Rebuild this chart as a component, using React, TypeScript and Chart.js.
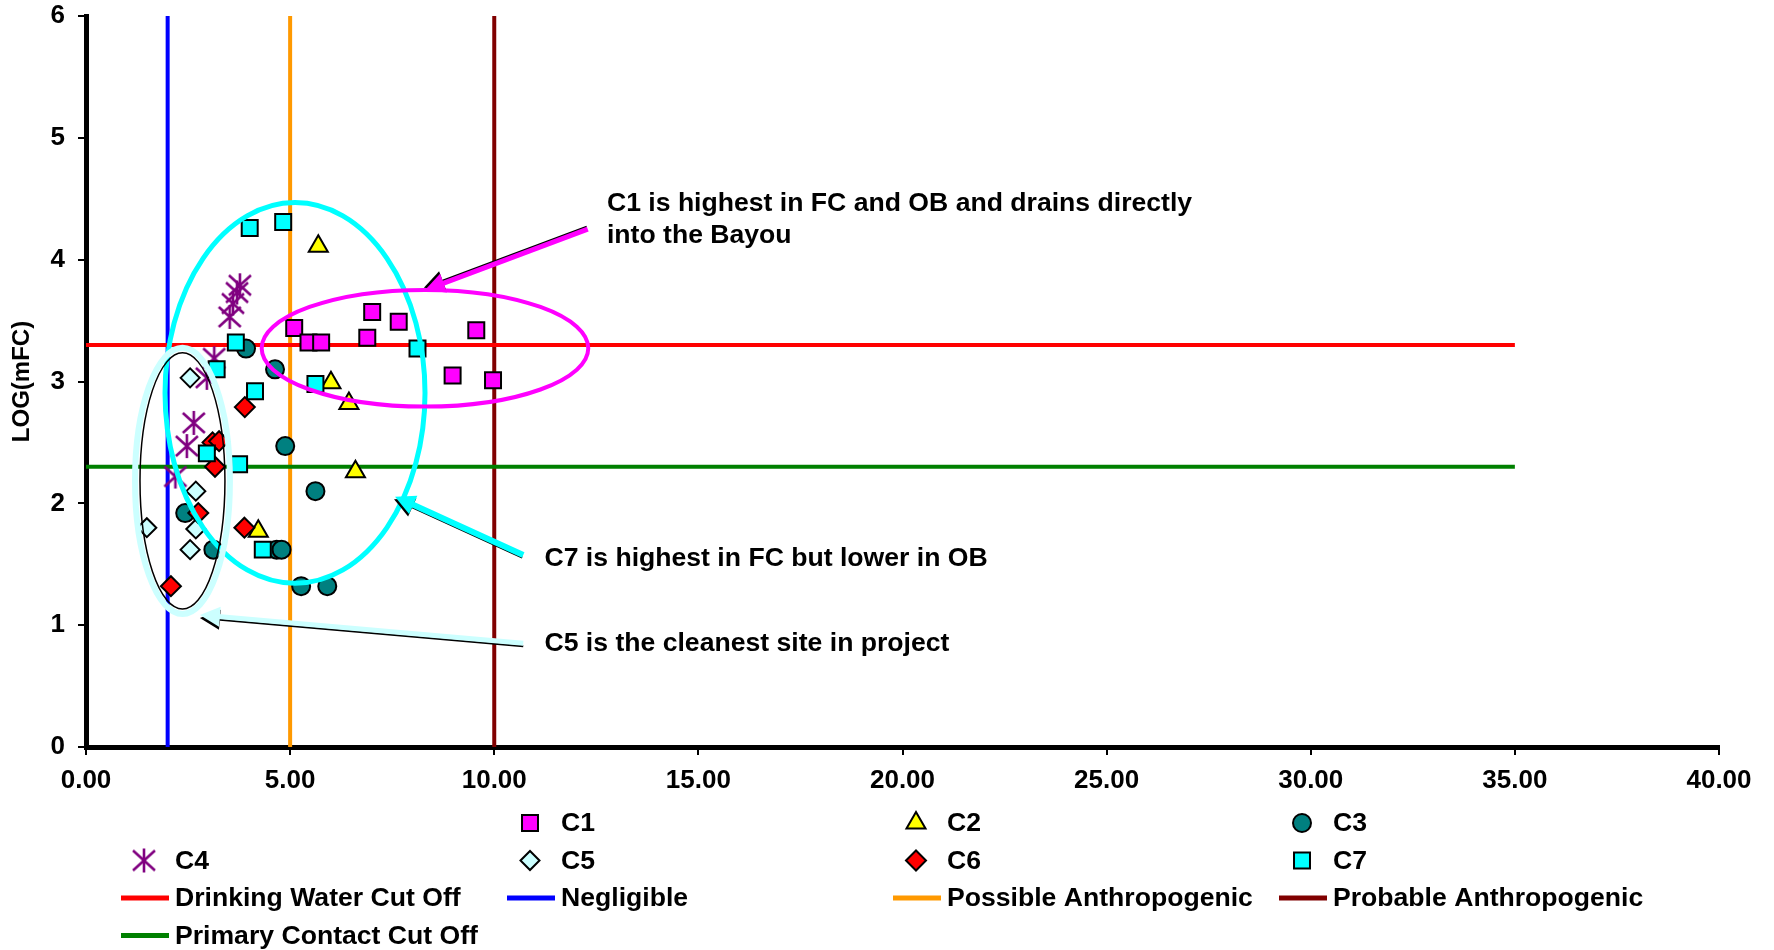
import React, { useEffect, useRef } from 'react';
import { Chart, registerables } from 'chart.js';

Chart.register(...registerables);

// ---------- data ----------
const c1X = [5.10, 5.45, 5.76, 7.01, 6.89, 7.66, 8.98, 9.56, 9.97];
const c1Y = [3.44, 3.32, 3.32, 3.57, 3.36, 3.49, 3.05, 3.42, 3.01];
const c2X = [5.69, 6.00, 6.44, 6.60, 4.22];
const c2Y = [4.11, 2.99, 2.82, 2.26, 1.77];
const c3X = [3.92, 4.63, 4.88, 5.62, 2.43, 3.12, 4.67, 4.79, 5.27, 5.91];
const c3Y = [3.27, 3.10, 2.47, 2.10, 1.92, 1.62, 1.62, 1.62, 1.32, 1.32];
const c4X = [3.77, 3.70, 3.60, 3.52, 3.14, 2.96, 2.64, 2.47, 2.19];
const c4Y = [3.79, 3.73, 3.64, 3.53, 3.19, 3.03, 2.66, 2.47, 2.22];
const c5X = [2.55, 2.69, 1.49, 2.69, 2.55];
const c5Y = [3.03, 2.10, 1.80, 1.79, 1.62];
const c6X = [3.89, 3.10, 3.26, 3.16, 2.75, 3.88, 2.08];
const c6Y = [2.79, 2.50, 2.51, 2.30, 1.92, 1.80, 1.32];
const c7X = [4.01, 4.83, 3.67, 3.20, 4.14, 5.62, 8.12, 2.96, 3.75, 4.33];
const c7Y = [4.26, 4.31, 3.32, 3.10, 2.92, 2.98, 3.27, 2.41, 2.32, 1.62];

const seriesNames = ['C1', 'C2', 'C3', 'C4', 'C5', 'C6', 'C7'];
const seriesXs = [c1X, c2X, c3X, c4X, c5X, c6X, c7X];
const seriesYs = [c1Y, c2Y, c3Y, c4Y, c5Y, c6Y, c7Y];

// reference (cut-off) lines
const hLineNames = ['Drinking Water Cut Off', 'Primary Contact Cut Off'];
const hLineValues = [3.3, 2.3];
const hLineXRange = [0, 35];
const vLineNames = ['Negligible', 'Possible Anthropogenic', 'Probable Anthropogenic'];
const vLineValues = [2, 5, 10];
const vLineYRange = [0, 6];

// axes
const xRange = [0, 40];
const xStep = 5;
const yRange = [0, 6];
const yStep = 1;
const yTitle = 'LOG(mFC)';

// annotations (data units)
const noteTexts = [
  'C1 is highest in FC and OB and drains directly',
  'into the Bayou',
  'C7 is highest in FC but lower in OB',
  'C5 is the cleanest site in project',
];
const noteX = [12.76, 12.76, 11.23, 11.23];
const noteY = [4.46, 4.20, 1.549, 0.851];

// ---------- styles ----------
const FONT = '"Liberation Sans", Arial, Helvetica, sans-serif';
const TEXT_SIZE = 26.6;
const seriesStyles: any = {
  C1: { shape: 'rect', fill: '#FF00FF', r: 11.3 },
  C2: { shape: 'triangle', fill: '#FFFF00', r: 11 },
  C3: { shape: 'circle', fill: '#008080', r: 9 },
  C4: { shape: 'asterisk', fill: '#800080', r: 12 },
  C5: { shape: 'rectRot', fill: '#CCFFFF', r: 9.5 },
  C6: { shape: 'rectRot', fill: '#FF0000', r: 10 },
  C7: { shape: 'rect', fill: '#00FFFF', r: 11.3 },
};
const lineColors: any = {
  'Drinking Water Cut Off': '#FF0000',
  'Primary Contact Cut Off': '#008000',
  'Negligible': '#0000FF',
  'Possible Anthropogenic': '#FF9900',
  'Probable Anthropogenic': '#800000',
};

const ellipseSpecs = [
  { cx: 5.12, cy: 2.906, rx: 3.184, ry: 1.5625, color: '#00FFFF', width: 5, inner: false },
  { cx: 8.303, cy: 3.273, rx: 4.0, ry: 0.479, color: '#FF00FF', width: 4, inner: false },
  { cx: 2.363, cy: 2.184, rx: 1.163, ry: 1.092, color: '#CCFFFF', width: 6, inner: true },
];
const arrowSpecs = [
  { x1: 12.29, y1: 4.25, x2: 8.30, y2: 3.75, color: '#FF00FF', width: 5, sdx: -1, sdy: -2.5 },
  { x1: 10.71, y1: 1.576, x2: 7.57, y2: 2.055, color: '#00FFFF', width: 6, sdx: -1, sdy: 2.5 },
  { x1: 10.71, y1: 0.851, x2: 2.79, y2: 1.084, color: '#CCFFFF', width: 5, sdx: 0, sdy: 3 },
];

const legendLayout: (string | null)[] = [
  null, 'C1', 'C2', 'C3',
  'C4', 'C5', 'C6', 'C7',
  'Drinking Water Cut Off', 'Negligible', 'Possible Anthropogenic', 'Probable Anthropogenic',
  'Primary Contact Cut Off',
];

function makeAsterisk(color: string) {
  const size = 28;
  const c = document.createElement('canvas');
  c.width = size;
  c.height = size;
  const g = c.getContext('2d')!;
  g.strokeStyle = color;
  g.lineWidth = 2.6;
  const m = size / 2;
  g.beginPath();
  g.moveTo(m, m - 12);
  g.lineTo(m, m + 12);
  g.moveTo(m - 11, m - 10);
  g.lineTo(m + 11, m + 10);
  g.moveTo(m + 11, m - 10);
  g.lineTo(m - 11, m + 10);
  g.stroke();
  return c;
}

function drawMarker(ctx: CanvasRenderingContext2D, st: any, x: number, y: number, img: any) {
  const r = st.r;
  if (st.shape === 'asterisk') {
    ctx.drawImage(img, x - img.width / 2, y - img.height / 2);
    return;
  }
  ctx.beginPath();
  if (st.shape === 'rect') {
    const s = Math.SQRT1_2 * r;
    ctx.rect(x - s, y - s, 2 * s, 2 * s);
  } else if (st.shape === 'circle') {
    ctx.arc(x, y, r, 0, Math.PI * 2);
  } else if (st.shape === 'triangle') {
    ctx.moveTo(x, y - r);
    ctx.lineTo(x + r * Math.sin(Math.PI * 2 / 3), y + r / 2);
    ctx.lineTo(x - r * Math.sin(Math.PI * 2 / 3), y + r / 2);
    ctx.closePath();
  } else if (st.shape === 'rectRot') {
    ctx.moveTo(x - r, y);
    ctx.lineTo(x, y - r);
    ctx.lineTo(x + r, y);
    ctx.lineTo(x, y + r);
    ctx.closePath();
  }
  ctx.fillStyle = st.fill;
  ctx.fill();
  ctx.lineWidth = 2;
  ctx.strokeStyle = '#000';
  ctx.stroke();
}

function drawArrow(ctx: CanvasRenderingContext2D, a: any, px: any, py: any) {
  const x1 = px(a.x1), y1 = py(a.y1), x2 = px(a.x2), y2 = py(a.y2);
  const ang = Math.atan2(y2 - y1, x2 - x1);
  const hl = 20, hw = 10;
  const bx = x2 - Math.cos(ang) * hl, by = y2 - Math.sin(ang) * hl;
  const nx = -Math.sin(ang), ny = Math.cos(ang);
  const head = (dx: number, dy: number) => {
    ctx.beginPath();
    ctx.moveTo(x2 + dx, y2 + dy);
    ctx.lineTo(bx + nx * hw + dx, by + ny * hw + dy);
    ctx.lineTo(bx - nx * hw + dx, by - ny * hw + dy);
    ctx.closePath();
  };
  // shadow
  ctx.strokeStyle = '#000';
  ctx.lineWidth = 2;
  ctx.beginPath();
  ctx.moveTo(x1 + a.sdx, y1 + a.sdy);
  ctx.lineTo(bx + a.sdx, by + a.sdy);
  ctx.stroke();
  head(a.sdx, a.sdy);
  ctx.fillStyle = '#000';
  ctx.fill();
  // main
  ctx.strokeStyle = a.color;
  ctx.lineWidth = a.width;
  ctx.beginPath();
  ctx.moveTo(x1, y1);
  ctx.lineTo(bx + Math.cos(ang) * 2, by + Math.sin(ang) * 2);
  ctx.stroke();
  head(0, 0);
  ctx.fillStyle = a.color;
  ctx.fill();
}

export default function App() {
  const canvasRef = useRef<HTMLCanvasElement | null>(null);

  useEffect(() => {
    const canvas = canvasRef.current;
    if (!canvas) return;
    const asterisk = makeAsterisk(seriesStyles.C4.fill);

    const pointSets = seriesNames.map((name, i) => {
      const st = seriesStyles[name];
      return {
        type: 'scatter',
        label: name,
        data: seriesXs[i].map((v, j) => ({ x: v, y: seriesYs[i][j] })),
        pointStyle: st.shape === 'asterisk' ? asterisk : st.shape,
        pointRadius: st.r,
        pointHoverRadius: st.r,
        backgroundColor: st.fill,
        borderColor: '#000',
        pointBorderWidth: 2,
        borderWidth: 2,
        showLine: false,
        order: 10 - i,
      };
    });
    const hSets = hLineNames.map((name, i) => ({
      type: 'scatter',
      label: name,
      data: hLineXRange.map((v) => ({ x: v, y: hLineValues[i] })),
      showLine: true,
      borderColor: lineColors[name],
      backgroundColor: lineColors[name],
      borderWidth: 4,
      pointRadius: 0,
      order: 100,
    }));
    const vSets = vLineNames.map((name, i) => ({
      type: 'scatter',
      label: name,
      data: vLineYRange.map((v) => ({ x: vLineValues[i], y: v })),
      showLine: true,
      borderColor: lineColors[name],
      backgroundColor: lineColors[name],
      borderWidth: 4,
      pointRadius: 0,
      order: 100,
    }));

    const overlay = {
      id: 'overlay',
      afterDatasetsDraw(chart: any) {
        const { ctx, scales } = chart;
        const xs = scales.x, ys = scales.y;
        const px = (v: number) => xs.getPixelForValue(v);
        const py = (v: number) => ys.getPixelForValue(v);
        ctx.save();
        ellipseSpecs.forEach((e) => {
          const cx = px(e.cx), cy = py(e.cy);
          const rx = Math.abs(px(e.cx + e.rx) - cx);
          const ry = Math.abs(py(e.cy + e.ry) - cy);
          ctx.beginPath();
          ctx.ellipse(cx, cy, rx, ry, 0, 0, Math.PI * 2);
          ctx.strokeStyle = e.color;
          ctx.lineWidth = e.width;
          ctx.stroke();
          if (e.inner) {
            ctx.beginPath();
            ctx.ellipse(cx, cy, rx - 5, ry - 5, 0, 0, Math.PI * 2);
            ctx.strokeStyle = '#000';
            ctx.lineWidth = 1.5;
            ctx.stroke();
          }
        });
        arrowSpecs.forEach((a) => drawArrow(ctx, a, px, py));
        ctx.fillStyle = '#000';
        ctx.font = `bold ${TEXT_SIZE}px ${FONT}`;
        ctx.textAlign = 'left';
        ctx.textBaseline = 'middle';
        noteTexts.forEach((t, i) => ctx.fillText(t, px(noteX[i]), py(noteY[i])));
        ctx.restore();
      },
      afterDraw(chart: any) {
        const { ctx } = chart;
        ctx.save();
        const col0 = 175, colW = 386;
        const row0 = 823, rowH = 37.5;
        ctx.font = `bold ${TEXT_SIZE}px ${FONT}`;
        ctx.textBaseline = 'middle';
        ctx.textAlign = 'left';
        legendLayout.forEach((name, k) => {
          if (!name) return;
          const tx = col0 + (k % 4) * colW;
          const ty = row0 + Math.floor(k / 4) * rowH;
          if (seriesStyles[name]) {
            drawMarker(ctx, seriesStyles[name], tx - 31, ty, asterisk);
          } else {
            ctx.strokeStyle = lineColors[name];
            ctx.lineWidth = 5;
            ctx.beginPath();
            ctx.moveTo(tx - 54, ty);
            ctx.lineTo(tx - 6, ty);
            ctx.stroke();
          }
          ctx.fillStyle = '#000';
          ctx.fillText(name, tx, ty + 1);
        });
        ctx.restore();
      },
    };

    const tickFont = { family: FONT, size: 26, weight: 'bold' as const };
    const chart = new Chart(canvas, {
      type: 'scatter',
      data: { datasets: [...pointSets, ...hSets, ...vSets] as any },
      options: {
        responsive: false,
        animation: false,
        devicePixelRatio: 1,
        layout: { padding: { left: 0, top: 16, right: 55, bottom: 143 } },
        plugins: { legend: { display: false }, tooltip: { enabled: false } },
        scales: {
          x: {
            type: 'linear',
            min: xRange[0],
            max: xRange[1],
            ticks: {
              stepSize: xStep,
              callback: (v: any) => Number(v).toFixed(2),
              font: tickFont,
              color: '#000',
              padding: 10,
              maxRotation: 0,
              autoSkip: false,
            },
            grid: { drawOnChartArea: false, drawTicks: true, tickLength: 8, lineWidth: 2, color: '#000' },
            border: { display: true, color: '#000', width: 5 },
            afterFit: (s: any) => {
              s.height = 60;
              s.paddingLeft = 0;
              s.paddingRight = 0;
            },
          },
          y: {
            type: 'linear',
            min: yRange[0],
            max: yRange[1],
            ticks: { stepSize: yStep, font: tickFont, color: '#000', padding: 13 },
            grid: { drawOnChartArea: false, drawTicks: true, tickLength: 8, lineWidth: 2, color: '#000' },
            border: { display: true, color: '#000', width: 5 },
            title: {
              display: true,
              text: yTitle,
              color: '#000',
              font: { family: FONT, size: 24, weight: 'bold' },
              padding: { top: 8, bottom: 0 },
            },
            afterFit: (s: any) => {
              s.width = 86;
              s.paddingTop = 0;
              s.paddingBottom = 0;
            },
          },
        },
      } as any,
      plugins: [overlay],
    } as any);

    return () => chart.destroy();
  }, []);

  return (
    <div style={{ position: 'absolute', left: 0, top: 0, width: 1774, height: 950, background: '#fff' }}>
      <canvas ref={canvasRef} width={1774} height={950} />
    </div>
  );
}
